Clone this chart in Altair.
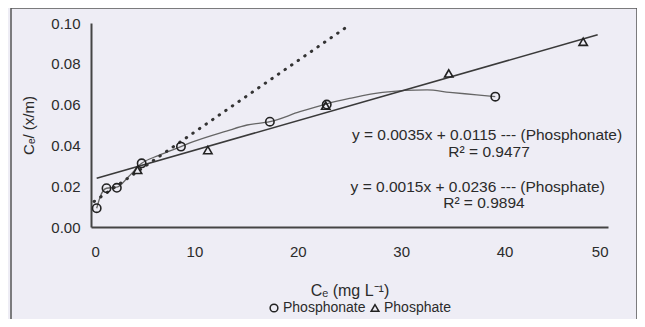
import altair as alt
import pandas as pd

# ---- data ----
# Phosphonate observations (circles)
phn_x = [0.55, 1.5, 2.5, 4.9, 8.7, 17.3, 22.8, 39.1]
phn_y = [0.0092, 0.0190, 0.0192, 0.0312, 0.0394, 0.0516, 0.0600, 0.0639]
# Phosphate observations (triangles)
pht_x = [4.5, 11.3, 22.7, 34.6, 47.6]
pht_y = [0.0280, 0.0377, 0.0595, 0.0753, 0.0908]
# hand-drawn trend curve through the phosphonate data
curve_x = [0.55, 0.9, 1.5, 2.5, 3.6, 4.9, 6.5, 8.7, 9.9, 13.1, 15.1, 17.3, 20.2, 22.8,
           25.0, 28.2, 32.5, 34.7, 37.3, 39.1]
curve_y = [0.0092, 0.0150, 0.0190, 0.0195, 0.0245, 0.0312, 0.0350, 0.0394, 0.0418, 0.0470,
           0.0500, 0.0516, 0.0565, 0.0604, 0.0630, 0.0660, 0.0672, 0.0660, 0.0648, 0.0639]
# linear fits (end points)
fit_phn_x = [0.3, 25.0]
fit_phn_y = [0.0125, 0.0990]
fit_pht_x = [0.55, 49.0]
fit_pht_y = [0.0239, 0.0942]
# annotations
ann_text = ["y = 0.0035x + 0.0115 --- (Phosphonate)", "R² = 0.9477",
            "y = 0.0015x + 0.0236 --- (Phosphate)", "R² = 0.9894"]
ann_x = [38.3, 38.5, 37.4, 38.0]
ann_y = [0.0451, 0.0368, 0.0196, 0.0118]
series_names = ["Phosphonate", "Phosphate"]

FONT = "Liberation Sans"
INK = "#2b2b2b"

pts = pd.DataFrame({
    "x": phn_x + pht_x,
    "y": phn_y + pht_y,
    "series": ["Phosphonate"] * len(phn_x) + ["Phosphate"] * len(pht_x),
})
curve = pd.DataFrame({"x": curve_x, "y": curve_y})
fphn = pd.DataFrame({"x": fit_phn_x, "y": fit_phn_y})
fpht = pd.DataFrame({"x": fit_pht_x, "y": fit_pht_y})
ann = pd.DataFrame({"x": ann_x, "y": ann_y, "t": ann_text})

xs = alt.Scale(domain=[0, 50], nice=False)
ys = alt.Scale(domain=[0, 0.1], nice=False)

X = alt.X("x:Q", scale=xs, axis=alt.Axis(
    title="Cₑ (mg L⁻¹)", values=[0, 10, 20, 30, 40, 50], grid=False, ticks=False,
    domainColor="#444", domainWidth=2, labelFont=FONT, labelFontSize=15,
    labelColor=INK, labelPadding=17, titleFont=FONT, titleFontSize=16,
    titleFontWeight="normal", titleColor=INK, titlePadding=23))
Y = alt.Y("y:Q", scale=ys, axis=alt.Axis(
    title="Cₑ/ (x/m)", values=[0, 0.02, 0.04, 0.06, 0.08, 0.1], format=".2f",
    grid=False, ticks=False, domainColor="#444", domainWidth=2,
    labelFont=FONT, labelFontSize=15, labelColor=INK, labelPadding=11,
    titleFont=FONT, titleFontSize=15, titleFontWeight="normal", titleColor=INK,
    titlePadding=14))

frame = alt.Chart(pd.DataFrame({"a": [0]})).mark_rect(
    fill=None, stroke="#555", strokeWidth=1.5, clip=False
).encode(x=alt.value(-80), x2=alt.value(546), y=alt.value(-15), y2=alt.value(301))

curve_l = alt.Chart(curve).mark_line(
    color="#666", strokeWidth=1.3, interpolate="monotone"
).encode(x=X, y=Y)

phn_fit = alt.Chart(fphn).mark_line(
    color="#333", strokeWidth=3, strokeDash=[0.5, 7.5], strokeCap="round"
).encode(x=X, y=Y)

pht_fit = alt.Chart(fpht).mark_line(color="#3a3a3a", strokeWidth=1.6).encode(x=X, y=Y)

points = alt.Chart(pts).mark_point(
    filled=False, color="#222", size=70, strokeWidth=1.6, opacity=1
).encode(
    x=X, y=Y,
    shape=alt.Shape("series:N", sort=series_names,
                    scale=alt.Scale(domain=series_names, range=["circle", "triangle-up"]),
                    legend=alt.Legend(title=None, orient="none", legendX=176, legendY=278,
                                      direction="horizontal", labelFont=FONT,
                                      labelFontSize=14, labelColor=INK, symbolSize=60,
                                      symbolStrokeWidth=1.5, symbolStrokeColor="#222",
                                      symbolFillColor="transparent", columnPadding=2,
                                      labelOffset=2, padding=0))
)

texts = alt.Chart(ann).mark_text(
    font=FONT, fontSize=15.5, color=INK, align="center", baseline="middle"
).encode(x=X, y=Y, text="t:N")

chart = alt.layer(frame, curve_l, phn_fit, pht_fit, points, texts).properties(
    width=517, height=204,
    autosize=alt.AutoSizeParams(type="none"),
    padding={"left": 83, "top": 15, "right": 29, "bottom": 92},
    background="#eeedf5",
).configure_view(stroke=None)

chart.save("out.html", embed_options={"renderer": "svg", "actions": False})
